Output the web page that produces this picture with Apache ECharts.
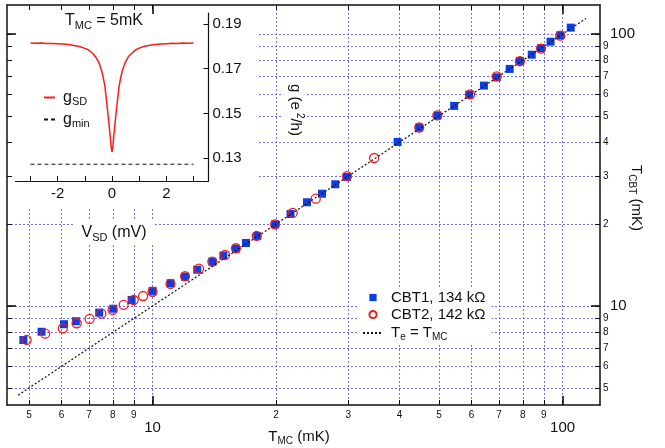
<!DOCTYPE html>
<html>
<head>
<meta charset="utf-8">
<script src="https://cdn.jsdelivr.net/npm/echarts@6/dist/echarts.min.js"></script>
<style>
  html, body { margin: 0; padding: 0; background: #fff; }
  #chart { width: 665px; height: 448px; }
</style>
</head>
<body>
<div id="chart"></div>
<script>
// Coulomb-blockade thermometer temperature vs mixing-chamber temperature (mK)
const cbt1Tmc  = [4.84, 5.36, 6.08, 6.50, 7.41, 8.02, 8.89, 10.0, 11.06, 12.0,
                  12.85, 13.99, 14.88, 15.97, 16.9, 18.0, 19.9, 21.7, 23.8, 25.9,
                  27.9, 29.8, 39.6, 44.7, 49.5, 54.4, 59.2, 64.3, 69.1, 74.3,
                  78.7, 84.1, 88.6, 93.5, 98.7, 104.7];
const cbt1Tcbt = [7.50, 8.04, 8.57, 8.79, 9.45, 9.77, 10.52, 11.36, 12.12, 12.81,
                  13.60, 14.55, 15.31, 16.24, 17.04, 18.09, 19.97, 21.79, 24.06, 25.87,
                  28.02, 29.81, 40.1, 45.3, 50.1, 54.4, 59.8, 64.6, 69.3, 74.4,
                  79.6, 83.9, 88.6, 93.7, 98.9, 105.5];
const cbt2Tmc  = [4.93, 5.47, 6.04, 6.53, 7.02, 7.50, 7.99, 8.50, 8.99, 9.48,
                  10.0, 11.06, 12.0, 12.98, 13.99, 15.02, 15.97, 17.95, 19.9, 21.97,
                  25.0, 29.8, 34.7, 44.7, 49.5, 59.5, 69.1, 78.7, 88.6, 98.7];
const cbt2Tcbt = [7.50, 7.91, 8.28, 8.64, 8.96, 9.37, 9.67, 10.09, 10.52, 10.88,
                  11.28, 12.05, 12.86, 13.71, 14.55, 15.40, 16.30, 18.09, 19.97, 21.98,
                  24.8, 30.0, 35.0, 45.3, 50.2, 60.0, 69.9, 79.4, 88.3, 98.6];
// Reference line Te = TMC
const equalT = [4.7, 114];

// Inset: differential conductance at TMC = 5 mK
const vSD = [-3.0, -2.8, -2.6, -2.4, -2.2, -2.0, -1.8, -1.6, -1.4, -1.2,
             -1.0, -0.9, -0.8, -0.7, -0.6, -0.5, -0.44, -0.38, -0.32, -0.26,
             -0.2, -0.15, -0.1, -0.06, -0.03, 0,
             0.03, 0.06, 0.1, 0.15, 0.2, 0.26, 0.32, 0.38, 0.44, 0.5,
             0.6, 0.7, 0.8, 0.9, 1.0, 1.2, 1.4, 1.6, 1.8, 2.0,
             2.2, 2.4, 2.6, 2.8, 3.0];
const gSD = [0.1815, 0.1814, 0.1815, 0.1813, 0.1813, 0.1812, 0.1810, 0.1808, 0.1804, 0.1799,
             0.1791, 0.1786, 0.1778, 0.1767, 0.1752, 0.1732, 0.1713, 0.1690, 0.1659, 0.1621,
             0.1555, 0.1500, 0.1440, 0.1390, 0.1348, 0.1328,
             0.1349, 0.1391, 0.1441, 0.1502, 0.1556, 0.1620, 0.1660, 0.1691, 0.1712, 0.1731,
             0.1753, 0.1766, 0.1777, 0.1786, 0.1792, 0.1800, 0.1805, 0.1808, 0.1810, 0.1812,
             0.1814, 0.1813, 0.1815, 0.1814, 0.1815];
const gMinV = [-3, 3];
const gMin = [0.1273, 0.1273];

// Axis ticks and labels
const logMajor = [10, 100];
const logAll = [5, 6, 7, 8, 9, 10, 20, 30, 40, 50, 60, 70, 80, 90, 100];
const insetXTicks = [-3, -2, -1, 0, 1, 2, 3];
const insetXLabels = [-2, 0, 2];
const insetYTicks = [0.13, 0.15, 0.17, 0.19];

const FONT = '"Liberation Sans", Arial, Helvetica, sans-serif';
const INK = '#111';
const GRIDC = '#7070f0';
const X_MIN = 4.415, X_MAX = 123.4;
const Y_MIN = 4.325, Y_MAX = 127.8;

function logLabel(v) {
  const r = Math.round(v);
  if (r === 10 || r === 100) return '{big|' + r + '}';
  return '{sm|' + (r < 10 ? r : r / 10) + '}';
}

function mainAxis(pos, opts) {
  const horiz = (pos === 'bottom' || pos === 'top');
  const base = {
    type: 'log', logBase: 10, gridIndex: 0, position: pos,
    min: horiz ? X_MIN : Y_MIN,
    max: horiz ? X_MAX : Y_MAX,
    z: 3,
    axisLine: { show: false, onZero: false },
    axisTick: { show: false },
    minorTick: { show: false },
    axisLabel: { show: false },
    splitLine: { show: false }
  };
  return Object.assign(base, opts);
}

const frameLine = { show: true, onZero: false, lineStyle: { color: INK, width: 1.5 } };
const minorTick = { show: true, inside: true, length: 5, customValues: logAll, lineStyle: { color: INK, width: 1 } };
const majorTick = { show: true, inside: true, length: 9, customValues: logMajor, lineStyle: { color: INK, width: 1.6 } };
const gridSplit = { show: true, lineStyle: { color: GRIDC, width: 1, type: [2, 2] } };

const xAxes = [
  mainAxis('bottom', {
    axisLine: frameLine, axisTick: minorTick,
    axisLabel: {
      show: true, customValues: logAll, margin: 5, color: INK, fontFamily: FONT,
      formatter: logLabel,
      rich: {
        sm: { fontSize: 10, fontFamily: FONT, color: INK },
        big: { fontSize: 15, fontFamily: FONT, color: INK, verticalAlign: 'middle', padding: [10, 0, 0, 0] }
      }
    }
  }),
  mainAxis('top', { axisLine: frameLine, axisTick: minorTick }),
  mainAxis('bottom', { z: 0, axisTick: { show: false, customValues: logAll }, splitLine: gridSplit }),
  {
    type: 'value', gridIndex: 1, position: 'bottom', min: -3.55, max: 3.55, z: 3,
    axisLine: { show: true, onZero: false, lineStyle: { color: INK, width: 1.2 } },
    axisTick: { show: true, inside: true, length: 5, customValues: insetXTicks, lineStyle: { color: INK } },
    axisLabel: { show: true, customValues: insetXLabels, margin: 5, color: INK, fontSize: 15, fontFamily: FONT },
    splitLine: { show: false }
  },
  mainAxis('bottom', { axisTick: majorTick }),
  mainAxis('top', { axisTick: majorTick })
];

const yAxes = [
  mainAxis('right', {
    axisLine: frameLine, axisTick: minorTick,
    axisLabel: {
      show: true, customValues: logAll, margin: 3, color: INK, fontFamily: FONT,
      formatter: logLabel,
      rich: {
        sm: { fontSize: 10, fontFamily: FONT, color: INK },
        big: { fontSize: 15, fontFamily: FONT, color: INK, padding: [0, 0, 0, 7] }
      }
    }
  }),
  mainAxis('left', { axisLine: frameLine, axisTick: minorTick }),
  mainAxis('left', { z: 0, axisTick: { show: false, customValues: logAll }, splitLine: gridSplit }),
  mainAxis('right', { axisTick: majorTick }),
  mainAxis('left', { axisTick: majorTick }),
  {
    type: 'value', gridIndex: 1, position: 'right', min: 0.1198, max: 0.1949, z: 3,
    axisLine: { show: true, onZero: false, lineStyle: { color: INK, width: 1.2 } },
    axisTick: { show: true, inside: true, length: 5, customValues: insetYTicks, lineStyle: { color: INK } },
    axisLabel: {
      show: true, customValues: insetYTicks, margin: 4, color: INK, fontSize: 15, fontFamily: FONT,
      formatter: v => v.toFixed(2)
    },
    splitLine: { show: false }
  }
];

const subRich = (size) => ({
  n: { fontSize: size, fontFamily: FONT, color: INK, lineHeight: 18, verticalAlign: 'middle' },
  s: { fontSize: Math.round(size * 0.68), fontFamily: FONT, color: INK, lineHeight: 18, verticalAlign: 'middle', padding: [8, 0, 0, 0] }
});

const legendNames = {
  'CBT1, 134 kΩ': '{n|CBT1, 134 kΩ}',
  'CBT2, 142 kΩ': '{n|CBT2, 142 kΩ}',
  'Te = TMC': '{n|T}{s|e}{n| = T}{s|MC}',
  'gSD': '{n|g}{s|SD}',
  'gmin': '{n|g}{s|min}'
};

const zrRich = (size, subSize) => ({
  n: { fontSize: size, fontFamily: FONT, fill: INK, lineHeight: 20, verticalAlign: 'middle' },
  s: { fontSize: subSize, fontFamily: FONT, fill: INK, lineHeight: 20, verticalAlign: 'middle', padding: [9, 0, 0, 0] },
  u: { fontSize: subSize, fontFamily: FONT, fill: INK, lineHeight: 20, verticalAlign: 'middle', padding: [0, 0, 10, 3] }
});

// line-only legend entries: no marker dot
const noDot = { opacity: 0 };

const option = {
  animation: false,
  backgroundColor: '#fff',
  grid: [
    { left: 7, top: 5, width: 593, height: 400 },
    { left: 15.5, top: 13, width: 193, height: 168 }
  ],
  xAxis: xAxes,
  yAxis: yAxes,
  legend: [
    {
      data: ['CBT1, 134 kΩ', 'CBT2, 142 kΩ', { name: 'Te = TMC', itemStyle: noDot }],
      orient: 'vertical', left: 358, top: 288, padding: [2, 6, 2, 4],
      itemWidth: 20, itemHeight: 9, itemGap: 2, backgroundColor: '#fff',
      selectedMode: false, z: 5,
      formatter: n => legendNames[n],
      textStyle: { fontFamily: FONT, fontSize: 15, color: INK, padding: [0, 0, 0, 3], rich: subRich(15) }
    },
    {
      data: [{ name: 'gSD', itemStyle: noDot }, { name: 'gmin', itemStyle: noDot }],
      orient: 'vertical', left: 43, top: 88, padding: 0,
      itemWidth: 11, itemHeight: 8, itemGap: 3,
      selectedMode: false, z: 5,
      formatter: n => legendNames[n],
      textStyle: { fontFamily: FONT, fontSize: 16, color: INK, padding: [0, 0, 0, 3], rich: subRich(16) }
    }
  ],
  graphic: [
    { type: 'rect', z: 1, silent: true, shape: { x: 8, y: 6, width: 249, height: 201 }, style: { fill: '#fff' } },
    { type: 'text', z: 6, x: 104, y: 21, silent: true,
      style: { text: '{n|T}{s|MC}{n| = 5mK}', rich: zrRich(16, 11), align: 'center', verticalAlign: 'middle' } },
    { type: 'text', z: 6, x: 114, y: 233, silent: true,
      style: { text: '{n|V}{s|SD}{n| (mV)}', rich: zrRich(16, 11), align: 'center', verticalAlign: 'middle',
               backgroundColor: '#fff', padding: [2, 8, 2, 8] } },
    { type: 'text', z: 6, x: 295, y: 110, rotation: -Math.PI / 2, silent: true,
      style: { text: '{n|g (e}{u|2}{n|/h)}', rich: zrRich(15, 10), align: 'center', verticalAlign: 'middle',
               backgroundColor: '#fff', padding: [2, 3, 2, 3] } },
    { type: 'text', z: 6, x: 299, y: 437, silent: true,
      style: { text: '{n|T}{s|MC}{n| (mK)}', rich: zrRich(15, 10), align: 'center', verticalAlign: 'middle' } },
    { type: 'text', z: 6, x: 636, y: 198, rotation: -Math.PI / 2, silent: true,
      style: { text: '{n|T}{s|CBT}{n| (mK)}', rich: zrRich(15, 10), align: 'center', verticalAlign: 'middle' } }
  ],
  series: [
    {
      name: 'CBT1, 134 kΩ', type: 'line', xAxisIndex: 0, yAxisIndex: 0, z: 2,
      data: cbt1Tmc.map((t, i) => [t, cbt1Tcbt[i]]),
      symbol: 'rect', symbolSize: 8, showSymbol: true,
      lineStyle: { width: 0, opacity: 0 },
      itemStyle: { color: '#0b3fe6' },
      emphasis: { disabled: true }
    },
    {
      name: 'CBT2, 142 kΩ', type: 'line', xAxisIndex: 0, yAxisIndex: 0, z: 2,
      data: cbt2Tmc.map((t, i) => [t, cbt2Tcbt[i]]),
      symbol: 'circle', symbolSize: 9, showSymbol: true,
      lineStyle: { width: 0, opacity: 0 },
      itemStyle: { color: 'rgba(255,255,255,0)', borderColor: '#f51a1a', borderWidth: 1.3 },
      emphasis: { disabled: true }
    },
    {
      name: 'Te = TMC', type: 'line', xAxisIndex: 0, yAxisIndex: 0, z: 3,
      data: equalT.map(t => [t, t]),
      symbol: 'none',
      lineStyle: { color: INK, width: 1.2, type: [2, 2] },
      itemStyle: { color: INK },
      emphasis: { disabled: true }
    },
    {
      name: 'gSD', type: 'line', xAxisIndex: 3, yAxisIndex: 5, z: 4,
      data: vSD.map((v, i) => [v, gSD[i]]),
      symbol: 'none', showSymbol: false,
      lineStyle: { color: '#ff1a1a', width: 1.5 },
      itemStyle: { color: '#ff1a1a' },
      emphasis: { disabled: true }
    },
    {
      name: 'gmin', type: 'line', xAxisIndex: 3, yAxisIndex: 5, z: 4,
      data: gMinV.map((v, i) => [v, gMin[i]]),
      symbol: 'none',
      lineStyle: { color: INK, width: 1, type: [4, 3] },
      itemStyle: { color: INK },
      emphasis: { disabled: true }
    }
  ]
};

const chart = echarts.init(document.getElementById('chart'), null, { renderer: 'canvas' });
chart.setOption(option);
</script>
</body>
</html>
